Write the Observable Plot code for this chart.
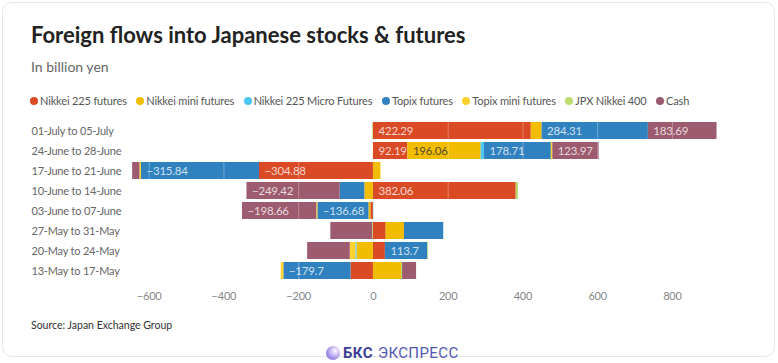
<!DOCTYPE html>
<html><head><meta charset="utf-8">
<script src="https://cdn.jsdelivr.net/npm/d3@7"></script>
<script src="https://cdn.jsdelivr.net/npm/@observablehq/plot@0.6"></script>
<style>
html,body{margin:0;padding:0;background:#fff;}
body{width:778px;height:363px;position:relative;overflow:hidden;font-family:Lato,"Noto Sans",sans-serif;}
.card{position:absolute;left:2px;top:2px;width:773px;height:355px;border:1px solid #e6e6e6;border-radius:10px;box-sizing:border-box;}
#title{position:absolute;left:31px;top:24px;font-size:22px;line-height:22px;font-weight:700;color:#222;white-space:nowrap;}
#subtitle{position:absolute;left:31px;top:60px;font-size:14px;line-height:14px;color:#666;white-space:nowrap;}
#legend{position:absolute;left:30px;top:95px;height:12px;display:flex;align-items:center;gap:9.5px;font-size:11px;letter-spacing:-0.15px;line-height:12px;color:#555;white-space:nowrap;}
#legend .it{display:flex;align-items:center;}
#legend .sw{width:8px;height:8px;border-radius:50%;margin-right:2px;display:inline-block;}
#chart{position:absolute;left:0;top:110px;}
#chart text{letter-spacing:-0.2px;}
#source{position:absolute;left:31px;top:319px;font-size:10.5px;line-height:12px;color:#333;white-space:nowrap;}
#wm{position:absolute;left:326px;top:345px;height:16px;display:flex;align-items:center;font-family:Roboto,Lato,sans-serif;font-size:15px;letter-spacing:0.4px;color:#5257b0;white-space:nowrap;}
#wm .logo{width:14px;height:14px;border-radius:50%;background:radial-gradient(circle at 65% 35%,#ffffff 0%,#c9b8f5 35%,#6a55d8 100%);margin-right:3px;}
#wm b{color:#3d3f96;margin-right:5px;}
</style>
</head><body>
<div class="card"></div>
<div id="title">Foreign flows into Japanese stocks &amp; futures</div>
<div id="subtitle">In billion yen</div>
<div id="legend"></div>
<div id="chart"></div>
<div id="source">Source: Japan Exchange Group</div>
<div id="wm"><span class="logo"></span><b>БКС</b><span>ЭКСПРЕСС</span></div>
<script>
const weeks = ["01-July to 05-July","24-June to 28-June","17-June to 21-June","10-June to 14-June","03-June to 07-June","27-May to 31-May","20-May to 24-May","13-May to 17-May"];
const series = ["Nikkei 225 futures","Nikkei mini futures","Nikkei 225 Micro Futures","Topix futures","Topix mini futures","JPX Nikkei 400","Cash"];
const colors = ["#da4a25","#f2bd00","#4cc7f4","#2f81c0","#fdd22e","#bcdc6e","#9c5b6e"];
const nikkei225   = [422.29, 92.19, -304.88, 382.06, -7, 34, 32, -60];
const nikkeiMini  = [29, 196.06, 20, -23, -5, 49, -44, 75];
const nikkeiMicro = [0, 9, 0, 0, 1, 0, -3, 0];
const topix       = [284.31, 178.71, -315.84, -66, -136.68, 105, 113.7, -179.7];
const topixMini   = [0, 4, -4, 0, -3, 0, -15, -7];
const jpx400      = [-2, 0, 0, 6, 0, -2, 2, 3];
const cash        = [183.69, 123.97, -19.5, -249.42, -198.66, -112, -114, 37.5];
const xTicks = [-600,-400,-200,0,200,400,600,800];
const labeledCells = [
  ["01-July to 05-July","Nikkei 225 futures"],["01-July to 05-July","Topix futures"],["01-July to 05-July","Cash"],
  ["24-June to 28-June","Nikkei 225 futures"],["24-June to 28-June","Nikkei mini futures"],["24-June to 28-June","Topix futures"],["24-June to 28-June","Cash"],
  ["17-June to 21-June","Nikkei 225 futures"],["17-June to 21-June","Topix futures"],
  ["10-June to 14-June","Nikkei 225 futures"],["10-June to 14-June","Cash"],
  ["03-June to 07-June","Topix futures"],["03-June to 07-June","Cash"],
  ["20-May to 24-May","Topix futures"],
  ["13-May to 17-May","Topix futures"]
];
const darkLabelSeries = ["Nikkei mini futures","Topix mini futures"];

const seriesValues = [nikkei225, nikkeiMini, nikkeiMicro, topix, topixMini, jpx400, cash];
const data = weeks.flatMap((w, i) => seriesValues.map((vals, j) => ({week: w, series: series[j], value: vals[i]})));
const labeledSet = new Set(labeledCells.map(([w, s]) => w + "|" + s));
const fmt = v => (v < 0 ? "\u2212" : "") + Math.abs(v);

const legend = document.getElementById("legend");
series.forEach((s, i) => {
  const it = document.createElement("span"); it.className = "it";
  const sw = document.createElement("span"); sw.className = "sw"; sw.style.background = colors[i];
  it.appendChild(sw); it.appendChild(document.createTextNode(s));
  legend.appendChild(it);
});

function labelMark(sign, dark) {
  const stack = sign > 0 ? Plot.stackX1 : Plot.stackX2;
  return Plot.text(data, stack({
    x: "value", y: "week", z: "series",
    text: d => (labeledSet.has(d.week + "|" + d.series) && Math.sign(d.value) === sign &&
               darkLabelSeries.includes(d.series) === dark) ? fmt(d.value) : "",
    textAnchor: "start", dx: 5, fontSize: 11.5,
    fill: dark ? "#333" : "#fff", fillOpacity: dark ? 0.85 : 0.78
  }));
}

const chart = Plot.plot({
  width: 778, height: 200,
  marginLeft: 130, marginRight: 50, marginTop: 6, marginBottom: 24.68,
  x: {domain: [-650, 950], axis: null},
  y: {domain: weeks, padding: 0.16, axis: null},
  color: {domain: series, range: colors},
  style: {fontFamily: "Lato, 'Noto Sans', sans-serif", fontSize: "12px", background: "transparent", overflow: "visible"},
  marks: [
    Plot.barX(data, Plot.stackX({x: "value", y: "week", fill: "series", z: "series"})),
    Plot.ruleX(xTicks.filter(t => t !== 0), {stroke: "#fff", strokeOpacity: 0.3}),
    labelMark(1, false), labelMark(1, true), labelMark(-1, false), labelMark(-1, true),
    Plot.axisX(xTicks, {tickSize: 0, tickPadding: 6, fontSize: 11, fill: "#888", label: null}),
    Plot.text(weeks, {y: d => d, frameAnchor: "left", textAnchor: "start", dx: -99, fill: "#666", fontSize: 11})
  ]
});
document.getElementById("chart").appendChild(chart);
</script>
</body></html>
